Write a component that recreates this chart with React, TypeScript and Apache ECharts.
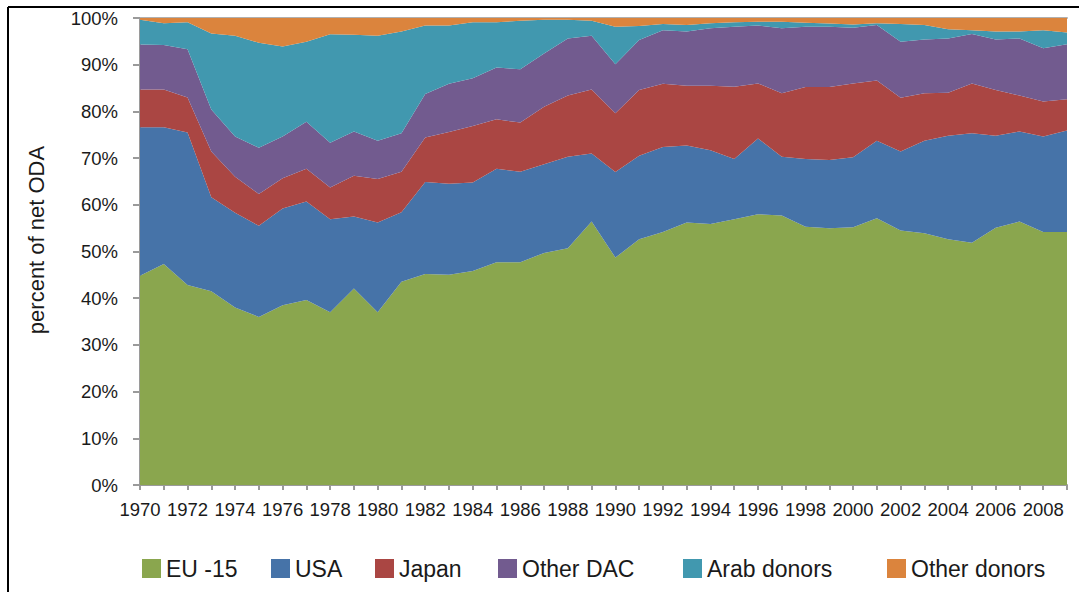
import React, { useEffect, useRef } from "react";
import * as echarts from "echarts";

const years: string[] = [];
for (let y = 1970; y <= 2009; y++) years.push(String(y));

const eu15 = [44.8, 47.3, 42.8, 41.5, 38.0, 36.0, 38.5, 39.6, 37.0, 42.1, 37.0, 43.5, 45.2, 45.0, 45.8, 47.7, 47.7, 49.7, 50.7, 56.4, 48.7, 52.6, 54.2, 56.2, 55.9, 56.9, 58.0, 57.7, 55.3, 55.0, 55.2, 57.1, 54.5, 53.9, 52.6, 51.9, 55.1, 56.4, 54.2, 54.2];
const usa = [31.8, 29.3, 32.7, 20.1, 20.3, 19.5, 20.7, 21.1, 19.9, 15.4, 19.2, 14.9, 19.7, 19.5, 19.0, 20.0, 19.4, 19.0, 19.6, 14.6, 18.3, 17.9, 18.2, 16.5, 15.8, 12.9, 16.2, 12.6, 14.5, 14.6, 15.0, 16.6, 16.9, 19.8, 22.2, 23.4, 19.7, 19.3, 20.4, 21.7];
const japan = [8.1, 8.1, 7.5, 9.8, 7.7, 6.8, 6.5, 7.0, 6.8, 8.7, 9.3, 8.7, 9.5, 11.1, 12.1, 10.6, 10.5, 12.3, 13.1, 13.7, 12.6, 14.1, 13.5, 12.8, 13.8, 15.5, 11.8, 13.6, 15.4, 15.6, 15.8, 12.9, 11.5, 10.2, 9.2, 10.7, 9.8, 7.7, 7.5, 6.7];
const otherDac = [9.6, 9.5, 10.3, 9.0, 8.6, 9.9, 8.9, 10.1, 9.6, 9.5, 8.2, 8.2, 9.3, 10.3, 10.2, 11.1, 11.4, 11.4, 12.2, 11.5, 10.5, 10.7, 11.5, 11.6, 12.3, 12.8, 12.4, 13.9, 12.9, 12.9, 11.9, 11.9, 12.0, 11.5, 11.6, 10.6, 10.8, 12.2, 11.4, 11.8];
const arabDonors = [5.3, 4.7, 5.8, 16.3, 21.6, 22.5, 19.3, 17.1, 23.2, 20.7, 22.5, 21.8, 14.7, 12.5, 12.0, 9.7, 10.4, 7.2, 4.0, 3.2, 8.0, 3.0, 1.3, 1.4, 1.1, 1.0, 0.8, 1.4, 0.9, 0.7, 0.7, 0.4, 3.8, 3.1, 2.0, 0.8, 1.7, 1.5, 3.9, 2.5];
const otherDonors = [0.4, 1.1, 0.9, 3.3, 3.8, 5.3, 6.1, 5.1, 3.5, 3.6, 3.8, 2.9, 1.6, 1.6, 0.9, 0.9, 0.6, 0.4, 0.4, 0.6, 1.9, 1.7, 1.3, 1.5, 1.1, 0.9, 0.8, 0.8, 1.0, 1.2, 1.4, 1.1, 1.3, 1.5, 2.4, 2.6, 2.9, 2.9, 2.6, 3.1];

const seriesNames = ["EU -15", "USA", "Japan", "Other DAC", "Arab donors", "Other donors"];
const seriesData = [eu15, usa, japan, otherDac, arabDonors, otherDonors];
const colors = ["#8AA64E", "#4673A8", "#AA4643", "#725B8F", "#4198AF", "#DB843D"];
const legendLeft = [142, 271, 375, 498, 683, 887];

const FONT = "'Liberation Sans', Arial, sans-serif";

export default function App() {
  const ref = useRef<HTMLDivElement>(null);
  useEffect(() => {
    if (!ref.current) return;
    const chart = echarts.init(ref.current, undefined, { renderer: "svg" });
    chart.setOption({
      animation: false,
      backgroundColor: "#ffffff",
      textStyle: { fontFamily: FONT },
      grid: { left: 140, top: 18, width: 927, height: 467, containLabel: false },
      legend: seriesNames.map((n, i) => ({
        data: [n],
        left: legendLeft[i],
        top: 557,
        icon: "rect",
        itemWidth: 19,
        itemHeight: 19,
        itemGap: 0,
        padding: 0,
        selectedMode: false,
        textStyle: { fontSize: 23, color: "#1a1a1a", fontFamily: FONT, lineHeight: 22, padding: [0, 0, 0, 0] },
      })),
      xAxis: [
        {
          type: "category",
          data: years,
          boundaryGap: false,
          axisLine: { lineStyle: { color: "#9a9a9a", width: 2 } },
          axisTick: { show: true, interval: 0, length: 5, lineStyle: { color: "#9a9a9a", width: 2 } },
          axisLabel: { interval: 1, fontSize: 18.5, color: "#1a1a1a", margin: 15, fontFamily: FONT, hideOverlap: false },
          splitLine: { show: false },
        },
        {
          type: "category",
          data: years,
          position: "top",
          boundaryGap: false,
          axisLine: { lineStyle: { color: "#b0b0b0", width: 2 } },
          axisTick: { show: false },
          axisLabel: { show: false },
        },
      ],
      yAxis: {
        type: "value",
        min: 0,
        max: 100,
        interval: 10,
        axisLine: { show: true, lineStyle: { color: "#9a9a9a", width: 2 } },
        axisTick: { show: true, length: 7, lineStyle: { color: "#9a9a9a", width: 2 } },
        axisLabel: { formatter: "{value}%", fontSize: 18.5, color: "#1a1a1a", margin: 22, fontFamily: FONT },
        splitLine: { show: false },
      },
      graphic: [
        {
          type: "text",
          x: 36,
          y: 240,
          rotation: Math.PI / 2,
          style: {
            text: "percent of net ODA",
            fontSize: 22,
            fontFamily: FONT,
            fill: "#1a1a1a",
            textAlign: "center",
            textVerticalAlign: "middle",
          },
        },
        { type: "line", shape: { x1: 8, y1: 7, x2: 1079, y2: 7 }, style: { stroke: "#000", lineWidth: 2 } },
        { type: "line", shape: { x1: 8, y1: 7, x2: 8, y2: 592 }, style: { stroke: "#000", lineWidth: 2 } },
      ],
      series: seriesNames.map((n, i) => ({
        name: n,
        type: "line",
        stack: "total",
        data: seriesData[i],
        symbol: "none",
        lineStyle: { width: 0 },
        areaStyle: { color: colors[i], opacity: 1 },
        itemStyle: { color: colors[i] },
        z: 2,
      })),
    });
    return () => chart.dispose();
  }, []);
  return (
    <div
      ref={ref}
      style={{ position: "fixed", left: 0, top: 0, width: 1079, height: 592, background: "#fff" }}
    />
  );
}
